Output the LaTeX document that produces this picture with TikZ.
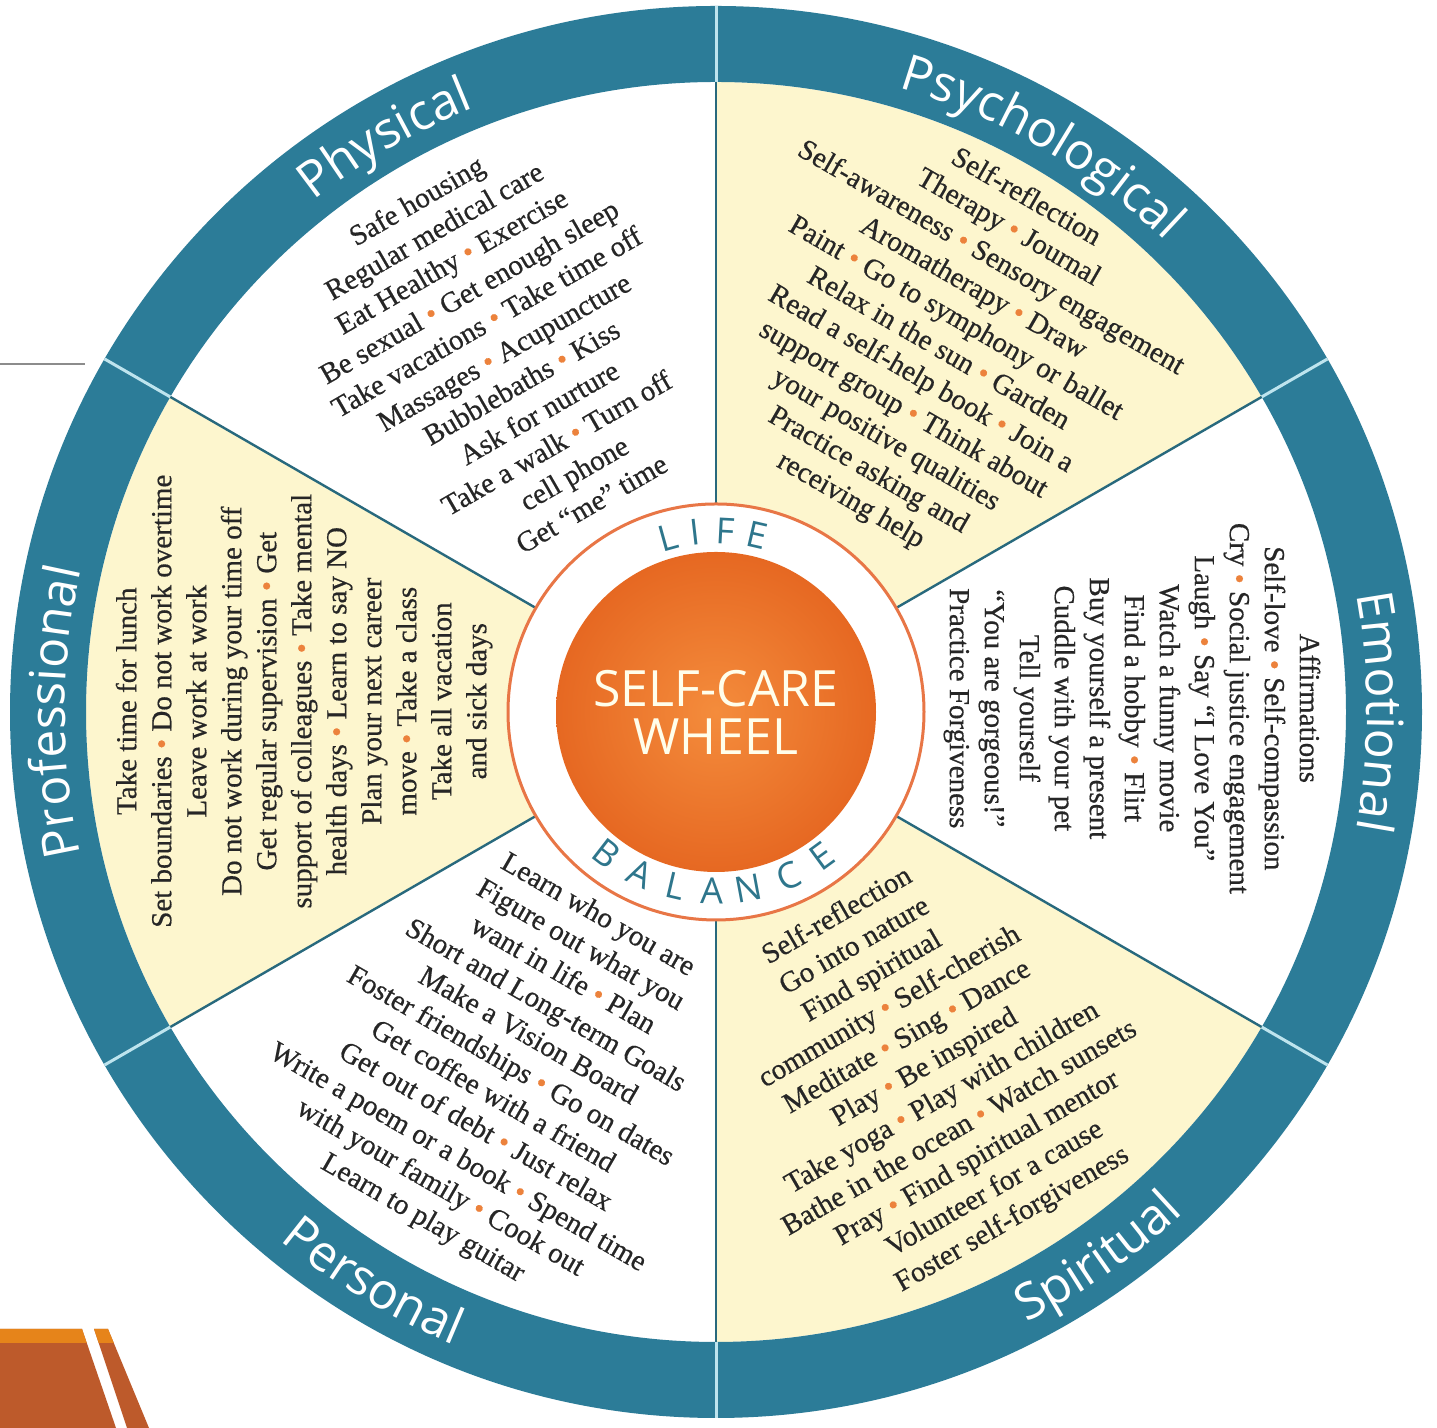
\documentclass[tikz,border=0pt]{standalone}
\usepackage{fontspec}
\setmainfont{Liberation Serif}
\newfontfamily\listfont{Liberation Serif}[Ligatures=TeX, FakeBold=0.5]
\newfontfamily\labelfont{Open Sans}
\usetikzlibrary{decorations.text}

\definecolor{ringteal}{RGB}{44,124,152}
\definecolor{ringgap}{RGB}{190,228,238}
\definecolor{spoke}{RGB}{40,105,125}
\definecolor{paleyellow}{RGB}{253,246,206}
\definecolor{hubouter}{RGB}{230,104,34}
\definecolor{hubinner}{RGB}{244,140,60}
\definecolor{hubline}{RGB}{232,118,70}
\definecolor{wordteal}{RGB}{46,118,140}
\definecolor{dotorange}{RGB}{236,130,60}
\definecolor{slideorange}{RGB}{230,132,26}
\definecolor{sliderust}{RGB}{189,90,43}
\definecolor{slidegray}{RGB}{140,140,140}

\newcommand{\bul}{{\color{dotorange}\textbullet}}
\newcommand{\bodysize}{\listfont\fontsize{14.5}{17.5}\selectfont}
\newcommand{\ringsize}{\labelfont\fontsize{25}{25}\selectfont}

\begin{document}
\begin{tikzpicture}[x=0.5pt,y=0.5pt,
  sectortext/.style={align=center, font=\bodysize, text=black!85, inner sep=0pt},
  ringlabel/.style={decorate, decoration={text along path, text align=center,
      text={|\ringsize\color{white}|#1}}},
  hubletter/.style={font=\labelfont\fontsize{18}{18}\selectfont, text=wordteal, inner sep=0pt},
]
\useasboundingbox (0,0) rectangle (1437,1428);
\fill[white] (0,0) rectangle (1437,1428);

% slide trim: rule at the upper left, banded corner at the lower left
\draw[slidegray, line width=1pt] (0,1064) -- (85,1064);
\fill[sliderust] (0,99) -- (82,99) -- (116,0) -- (0,0) -- cycle;
\fill[sliderust] (94,99) -- (108,99) -- (149,0) -- (127,0) -- cycle;
\fill[slideorange] (0,99) -- (82,99) -- (86.7,85) -- (0,85) -- cycle;
\fill[slideorange] (94,99) -- (108,99) -- (113.8,85) -- (98.7,85) -- cycle;

\begin{scope}[shift={(716,716)}]
  % sectors
  \foreach \a in {30,150,270}
    \fill[paleyellow] (0,0) -- (\a:630) arc[start angle=\a, end angle=\a+60, radius=630] -- cycle;

  % outer band
  \fill[ringteal, even odd rule] (0,0) circle[radius=706] (0,0) circle[radius=630];
  \foreach \a in {30,90,...,330} {
    \draw[ringgap, line width=1.5pt] (\a:630) -- (\a:706);
    \draw[spoke, line width=1.2pt] (\a:208) -- (\a:630);
  }

  % hub
  \fill[white] (0,0) circle[radius=208];
  \draw[hubline, line width=1.5pt] (0,0) circle[radius=208];
  \shade[inner color=hubinner, outer color=hubouter] (0,0) circle[radius=160];
  \node[font=\labelfont\fontsize{25}{24}\selectfont, text=white!92!yellow, align=center] (title) at (0,0) {SELF-CARE\\WHEEL};

  \foreach \ch/\ang in {L/105.5, I/96.5, F/87, E/77}
    \node[hubletter, rotate=\ang-90] (life\ch) at (\ang:181) {\ch};
  \foreach \ch/\ang [count=\k] in {B/232.2, A/244.9, L/256.9, A/268.7, N/280.5, C/293.8, E/306.2}
    \node[hubletter, rotate=\ang+90] (bal\k) at (\ang:179) {\ch};

  % band labels
  \path[ringlabel=Physical] (150:651) arc[start angle=150, end angle=90, radius=651];
  \path[ringlabel=Psychological] (90:651) arc[start angle=90, end angle=30, radius=651];
  \path[ringlabel=Emotional] (30:651) arc[start angle=30, end angle=-30, radius=651];
  \path[ringlabel=Professional] (210:651) arc[start angle=210, end angle=150, radius=651];
  \path[ringlabel=Spiritual] (-85:685) arc[start angle=-85, end angle=-25, radius=685];
  \path[ringlabel=Personal] (209:685) arc[start angle=209, end angle=269, radius=685];

  % sector lists
  \node[sectortext, rotate=30] (physical) at (120.5:418) {%
    Safe housing\\
    Regular medical care\\
    Eat Healthy \bul{} Exercise\\
    Be sexual \bul{} Get enough sleep\\
    Take vacations \bul{} Take time off\\
    Massages \bul{} Acupuncture\\
    Bubblebaths \bul{} Kiss\\
    Ask for nurture\\
    Take a walk \bul{} Turn off\\
    cell phone\\
    Get ``me'' time};

  \node[sectortext, rotate=-30] (psychological) at (58.5:425) {%
    Self-reflection\\
    Therapy \bul{} Journal\\
    Self-awareness \bul{} Sensory engagement\\
    Aromatherapy \bul{} Draw\\
    Paint \bul{} Go to symphony or ballet\\
    Relax in the sun \bul{} Garden\\
    Read a self-help book \bul{} Join a\\
    support group \bul{} Think about\\
    your positive qualities\\
    Practice asking and\\
    receiving help};

  \node[sectortext, rotate=-90] (emotional) at (0.5:416) {%
    Affirmations\\
    Self-love \bul{} Self-compassion\\
    Cry \bul{} Social justice engagement\\
    Laugh \bul{} Say ``I Love You''\\
    Watch a funny movie\\
    Find a hobby \bul{} Flirt\\
    Buy yourself a present\\
    Cuddle with your pet\\
    Tell yourself\\
    ``You are gorgeous!''\\
    Practice Forgiveness};

  \node[sectortext, rotate=30] (spiritual) at (-59.6:413) {%
    Self-reflection\\
    Go into nature\\
    Find spiritual\\
    community \bul{} Self-cherish\\
    Meditate \bul{} Sing \bul{} Dance\\
    Play \bul{} Be inspired\\
    Take yoga \bul{} Play with children\\
    Bathe in the ocean \bul{} Watch sunsets\\
    Pray \bul{} Find spiritual mentor\\
    Volunteer for a cause\\
    Foster self-forgiveness};

  \node[sectortext, rotate=-30] (personal) at (239.9:411) {%
    Learn who you are\\
    Figure out what you\\
    want in life \bul{} Plan\\
    Short and Long-term Goals\\
    Make a Vision Board\\
    Foster friendships \bul{} Go on dates\\
    Get coffee with a friend\\
    Get out of debt \bul{} Just relax\\
    Write a poem or a book \bul{} Spend time\\
    with your family \bul{} Cook out\\
    Learn to play guitar};

  \node[sectortext, rotate=90] (professional) at (178.5:412) {%
    Take time for lunch\\
    Set boundaries \bul{} Do not work overtime\\
    Leave work at work\\
    Do not work during your time off\\
    Get regular supervision \bul{} Get\\
    support of colleagues \bul{} Take mental\\
    health days \bul{} Learn to say NO\\
    Plan your next career\\
    move \bul{} Take a class\\
    Take all vacation\\
    and sick days};
\end{scope}
\end{tikzpicture}
\end{document}
